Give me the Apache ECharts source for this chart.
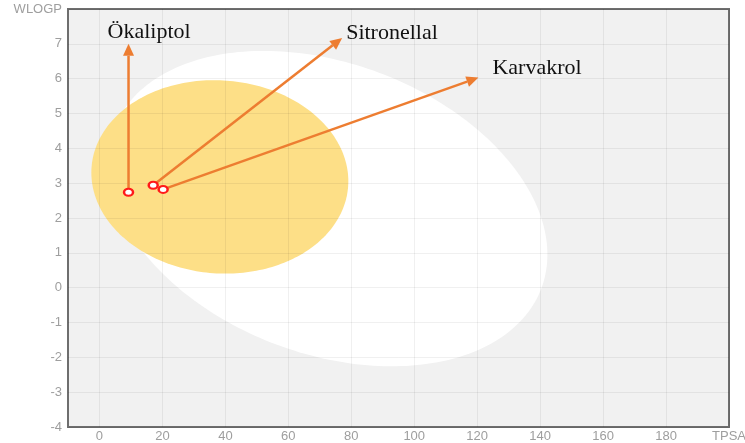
<!DOCTYPE html>
<html>
<head>
<meta charset="utf-8">
<script src="https://cdn.jsdelivr.net/npm/echarts@6/dist/echarts.min.js"></script>
<style>
  html, body { margin: 0; padding: 0; background: #ffffff; }
  #chart { width: 745px; height: 443px; }
</style>
</head>
<body>
<div id="chart"></div>
<script>
// Compounds placed on the BOILED-Egg plot (TPSA vs WLOGP)
const compounds = ['Ökaliptol', 'Sitronellal', 'Karvakrol'];
const tpsa = [9.23, 17.07, 20.23];
const wlogp = [2.74, 2.94, 2.82];
// where each annotation arrow ends (TPSA, WLOGP)
const arrowTipTpsa = [9.23, 77.1, 120.4];
const arrowTipWlogp = [7.0, 7.17, 6.03];

// tick values and their labels
const tpsaTicks = [0, 20, 40, 60, 80, 100, 120, 140, 160, 180, 200];
const tpsaTickLabels = ['0', '20', '40', '60', '80', '100', '120', '140', '160', '180', 'TPSA'];
const wlogpTicks = [-4, -3, -2, -1, 0, 1, 2, 3, 4, 5, 6, 7, 8];
const wlogpTickLabels = ['-4', '-3', '-2', '-1', '0', '1', '2', '3', '4', '5', '6', '7', 'WLOGP'];

// egg regions: centre plus two conjugate semi-axis vectors, in (TPSA, WLOGP)
const whiteCenter = [72.5, 2.27];
const whiteAxisU = [69.8, -1.32];
const whiteAxisV = [0, 4.33];
const yolkCenter = [38.24, 3.18];
const yolkAxisU = [40.82, -0.123];
const yolkAxisV = [0, 2.774];

const chart = echarts.init(document.getElementById('chart'), null, { renderer: 'canvas' });

// ellipse outline traced in data space, then mapped through the axes
function ellipseRenderer(fill) {
  return function (params, api) {
    const cx = api.value(0), cy = api.value(1);
    const ux = api.value(2), uy = api.value(3);
    const vx = api.value(4), vy = api.value(5);
    const pts = [];
    const n = 240;
    for (let i = 0; i < n; i++) {
      const t = (i / n) * Math.PI * 2;
      const c = Math.cos(t), s = Math.sin(t);
      pts.push(api.coord([cx + ux * c + vx * s, cy + uy * c + vy * s]));
    }
    return { type: 'polygon', shape: { points: pts }, style: { fill: fill }, silent: true };
  };
}

// label placement next to each arrow tip (pixels)
const labelShift = [[-21, -12], [4, -5], [14, -9.5]];

function arrowRenderer(params, api) {
  const p0 = api.coord([api.value(0), api.value(1)]);
  const p1 = api.coord([api.value(2), api.value(3)]);
  const dx = p1[0] - p0[0], dy = p1[1] - p0[1];
  const len = Math.sqrt(dx * dx + dy * dy);
  const ex = dx / len, ey = dy / len;
  const headLen = 12, headHalf = 5.5;
  const bx = p1[0] - ex * headLen, by = p1[1] - ey * headLen;
  const sh = labelShift[params.dataIndex];
  return {
    type: 'group',
    children: [
      { type: 'line', shape: { x1: p0[0], y1: p0[1], x2: bx, y2: by },
        style: { stroke: '#ed7d31', lineWidth: 2.5 } },
      { type: 'polygon', shape: { points: [
          [p1[0], p1[1]],
          [bx - ey * headHalf, by + ex * headHalf],
          [bx + ey * headHalf, by - ex * headHalf]
        ] }, style: { fill: '#ed7d31' } },
      { type: 'text', x: p1[0] + sh[0], y: p1[1] + sh[1],
        style: { text: compounds[params.dataIndex], fill: '#111111',
                 font: '22px "Liberation Serif", "Times New Roman", serif',
                 textAlign: 'left', textVerticalAlign: 'middle' } }
    ]
  };
}

const axisLabelStyle = { color: '#9e9e9e', fontSize: 13, fontFamily: 'Liberation Sans, Arial, sans-serif' };
const gridLineStyle = { color: 'rgba(0,0,0,0.06)', width: 1 };

chart.setOption({
  animation: false,
  grid: {
    left: 68, right: 16, top: 9, bottom: 16,
    outerBoundsMode: 'none', containLabel: false,
    show: true, backgroundColor: '#f1f1f1', borderColor: '#6e6e6e', borderWidth: 2
  },
  xAxis: {
    type: 'value', min: -10, max: 200, z: 3,
    axisLine: { show: false },
    axisTick: { show: false, customValues: tpsaTicks },
    axisLabel: Object.assign({
      customValues: tpsaTicks, margin: 3,
      formatter: v => tpsaTickLabels[tpsaTicks.indexOf(v)]
    }, axisLabelStyle),
    splitLine: { show: true, lineStyle: gridLineStyle }
  },
  yAxis: {
    type: 'value', min: -4, max: 8, interval: 1, z: 3,
    axisLine: { show: false },
    axisTick: { show: false },
    axisLabel: Object.assign({
      margin: 6,
      formatter: v => wlogpTickLabels[wlogpTicks.indexOf(v)]
    }, axisLabelStyle),
    splitLine: { show: true, lineStyle: gridLineStyle }
  },
  series: [
    {
      type: 'custom', name: 'white', z: 1,
      renderItem: ellipseRenderer('#ffffff'),
      data: [[whiteCenter[0], whiteCenter[1], whiteAxisU[0], whiteAxisU[1], whiteAxisV[0], whiteAxisV[1]]]
    },
    {
      type: 'custom', name: 'yolk', z: 2,
      renderItem: ellipseRenderer('#fddf87'),
      data: [[yolkCenter[0], yolkCenter[1], yolkAxisU[0], yolkAxisU[1], yolkAxisV[0], yolkAxisV[1]]]
    },
    {
      type: 'custom', name: 'arrows', z: 4,
      renderItem: arrowRenderer,
      data: compounds.map((c, i) => [tpsa[i], wlogp[i], arrowTipTpsa[i], arrowTipWlogp[i]])
    },
    {
      type: 'scatter', name: 'compounds', z: 5,
      symbol: 'circle', symbolSize: [9, 7],
      itemStyle: { color: '#ffffff', borderColor: '#ff1a1a', borderWidth: 2.2, opacity: 1 },
      data: compounds.map((c, i) => [tpsa[i], wlogp[i]])
    }
  ]
});
</script>
</body>
</html>
